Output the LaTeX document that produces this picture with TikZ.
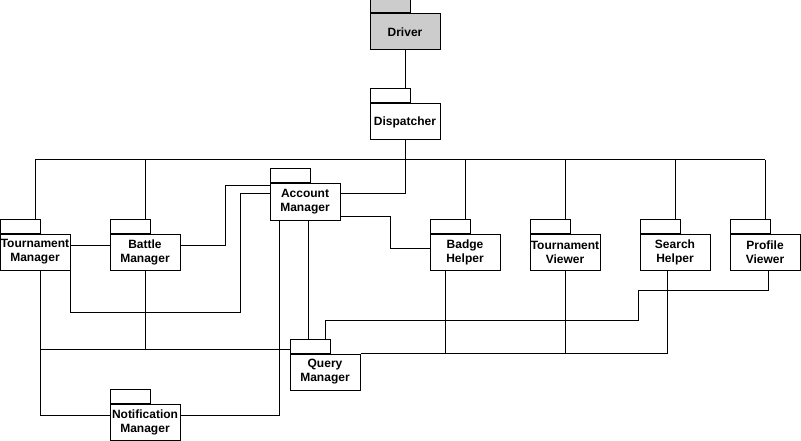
\documentclass[tikz,border=0pt]{standalone}
\usepackage{fontspec}
\setmainfont{Liberation Sans}
\definecolor{drvgray}{HTML}{CCCCCC}
\tikzset{
  pkg/.style={draw, line width=1pt, minimum width=70pt, minimum height=36pt, inner sep=0pt, align=center, fill=white,
    font=\bfseries\fontsize{12}{14}\selectfont},
  pkgtab/.style={draw, line width=1pt, minimum width=40pt, minimum height=14pt, inner sep=0pt, anchor=south west, fill=white},
  wire/.style={draw, line width=1pt}
}
\newcommand{\pkgnode}[5]{%
  \node[pkg, fill=#5] (#1) at (#2,#3) {#4};
  \node[pkgtab, fill=#5] (#1t) at (#1.north west) {};
}
\begin{document}
\begin{tikzpicture}[x=1pt, y=-1pt]
\useasboundingbox (0,0) rectangle (801,441);
% packages
\pkgnode{drv}{405}{32}{Driver}{drvgray}
\pkgnode{dsp}{405}{122}{Dispatcher}{white}
\pkgnode{tm}{35}{252}{Tournament\\Manager}{white}
\pkgnode{bm}{145}{252}{Battle\\Manager}{white}
\pkgnode{am}{305}{202}{Account\\Manager}{white}
\pkgnode{bh}{465}{252}{Badge\\Helper}{white}
\pkgnode{tv}{565}{252}{Tournament\\Viewer}{white}
\pkgnode{sh}{675}{252}{Search\\Helper}{white}
\pkgnode{pv}{765}{252}{Profile\\Viewer}{white}
\pkgnode{qm}{325}{372}{Query\\Manager}{white}
\pkgnode{nm}{145}{422}{Notification\\Manager}{white}
% bus
\coordinate (busL) at (35,160);
\coordinate (busR) at (765,160);
\coordinate (qmj) at ([yshift=-3pt]qmt.west);
\path[wire] (busL) -- (busR);
\path[wire] (drv.south) -- (drv.south |- dspt.north);
\path[wire] (dsp.south) -- (dsp.south |- busL);
\path[wire] (tm |- busL) -- (tm |- tmt.north);
\path[wire] (bm |- busL) -- (bm |- bmt.north);
\path[wire] (bh |- busL) -- (bh |- bht.north);
\path[wire] (tv |- busL) -- (tv |- tvt.north);
\path[wire] (sh |- busL) -- (sh |- sht.north);
\path[wire] (pv |- busL) -- (pv |- pvt.north);
% Account manager to dispatcher line
\path[wire] ([yshift=8pt]am.east) -| (dsp |- busL);
% TM - BM
\path[wire] ([yshift=7pt]tm.east) -- ([yshift=7pt]bm.west);
% BM - AM
\path[wire] ([yshift=7pt]bm.east) -- ++(45,0) |- ([yshift=16pt]am.west);
% TM - AM
\path[wire] (tm.south east) -- ++(0,42) -- ++(170,0) |- ([yshift=8pt]am.west);
% AM - BH
\path[wire] ([yshift=-14pt]am.east) -- ++(50,0) |- ([yshift=4pt]bh.west);
% AM - QM
\path[wire] ([xshift=3.5pt]am.south) -- ([xshift=3.5pt]am.south |- qmt.north);
% AM - NM
\path[wire] ([xshift=-26pt]am.south) |- ([yshift=7pt]nm.east);
% TM - NM
\path[wire] ([xshift=5pt]tm.south) |- ([yshift=7pt]nm.west);
% TM / BM - QM
\path[wire] ([xshift=5pt]tm.south) |- (qmj);
\path[wire] (bm.south) -- (bm.south |- qmj);
% PV - QM
\path[wire] ([xshift=3pt]pv.south) -- ++(0,20) -| ++(-130,30) -| ([xshift=15pt]qmt.north);
% BH, TV, SH - QM
\path[wire] (qm.north east) -- ([xshift=-8pt]sh.south |- qm.north east);
\path[wire] ([xshift=-20pt]bh.south) -- ([xshift=-20pt]bh.south |- qm.north);
\path[wire] (tv.south) -- (tv.south |- qm.north);
\path[wire] ([xshift=-8pt]sh.south) -- ([xshift=-8pt]sh.south |- qm.north);
\end{tikzpicture}
\end{document}
